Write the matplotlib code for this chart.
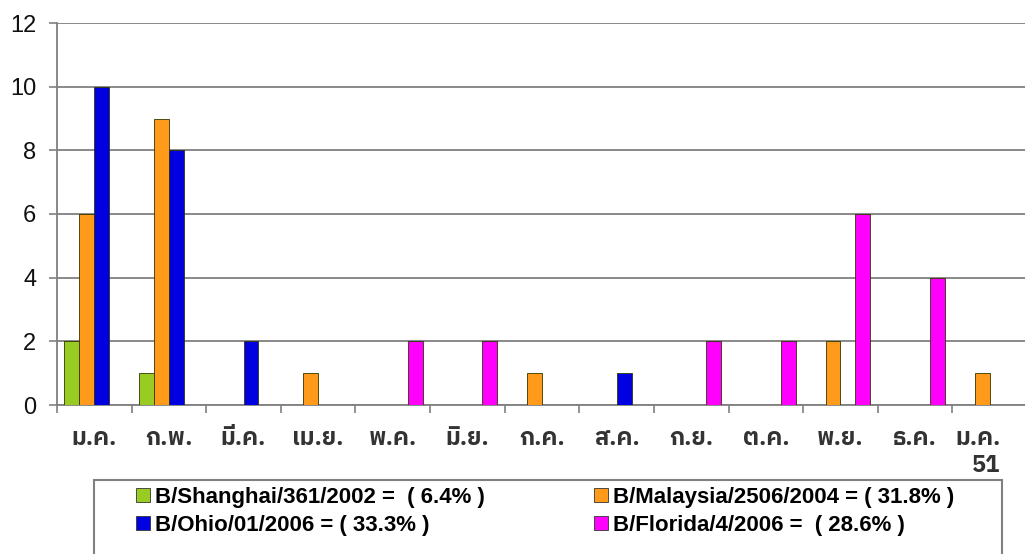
import matplotlib
matplotlib.use("Agg")
import matplotlib.pyplot as plt
import matplotlib.patches as mpatches
import matplotlib.transforms as mtransforms
import numpy as np

# data
months = ["ม.ค.", "ก.พ.", "มี.ค.", "เม.ย.", "พ.ค.", "มิ.ย.", "ก.ค.",
          "ส.ค.", "ก.ย.", "ต.ค.", "พ.ย.", "ธ.ค.", "ม.ค.\n51"]
shanghai = [2, 1, 0, 0, 0, 0, 0, 0, 0, 0, 0, 0, 0]
malaysia = [6, 9, 0, 1, 0, 0, 1, 0, 0, 0, 2, 0, 1]
ohio     = [10, 8, 2, 0, 0, 0, 0, 1, 0, 0, 0, 0, 0]
florida  = [0, 0, 0, 0, 2, 2, 0, 0, 2, 2, 6, 4, 0]
series_labels = ["B/Shanghai/361/2002 =  ( 6.4% )",
                 "B/Malaysia/2506/2004 = ( 31.8% )",
                 "B/Ohio/01/2006 = ( 33.3% )",
                 "B/Florida/4/2006 =  ( 28.6% )"]
colors = ["#99CC22", "#FF9A1A", "#0000E0", "#FF00FF"]

fig = plt.figure(figsize=(10.25, 5.54), dpi=100)
ax = fig.add_axes([57/1025, 149/554, 970/1025, 382/554])

x = np.arange(len(months))
width = 0.2
all_series = [shanghai, malaysia, ohio, florida]
for i, vals in enumerate(all_series):
    ax.bar(x + (i - 1.5) * width, vals, width, color=colors[i],
           edgecolor="#333300", linewidth=0.6, zorder=3)

ax.set_xlim(-0.5, len(months) - 0.5)
ax.set_ylim(0, 12)
ax.set_yticks(np.arange(0, 13, 2))
ax.yaxis.grid(True, color="#808080", linewidth=1.3, zorder=0)

# month labels at centres, tick marks at category borders
ax.set_xticks(x)
ax.set_xticklabels(months, family=["IBM Plex Sans Thai", "Noto Sans Thai", "Liberation Sans"],
                   fontsize=17, fontweight="bold", color="#333333", multialignment="right")
ax.set_xticks(np.arange(-0.5, len(months)), minor=True)
ax.tick_params(axis="x", which="major", length=0, pad=16)
ax.tick_params(axis="x", which="minor", length=6, color="#808080", width=1.2)
ax.tick_params(axis="y", length=6, color="#808080", width=1.2, pad=9,
               labelsize=17, labelcolor="#111111")
for lab in ax.get_yticklabels():
    lab.set_family("Liberation Sans")

last = ax.get_xticklabels()[-1]
last.set_transform(last.get_transform() +
                   mtransforms.ScaledTranslation(-12/100, 0, fig.dpi_scale_trans))

for s in ["top", "right"]:
    ax.spines[s].set_visible(False)
for s in ["left", "bottom"]:
    ax.spines[s].set_color("#808080")
    ax.spines[s].set_linewidth(1.3)

# legend
handles = [mpatches.Patch(facecolor=c, edgecolor="#333333", linewidth=0.6) for c in colors]
leg = fig.legend([handles[i] for i in [0, 2, 1, 3]],
                 [series_labels[i] for i in [0, 2, 1, 3]],
                 ncol=2, loc="upper left", bbox_to_anchor=(136/1025, 1 - 487/554),
                 frameon=False, borderpad=0, borderaxespad=0,
                 handlelength=0.62, handleheight=0.62, handletextpad=0.25,
                 columnspacing=4.9, labelspacing=0.3,
                 prop={"family": "Liberation Sans", "weight": "bold", "size": 16})
box = mpatches.Rectangle((94/1025, -10/554), 908/1025, 84/554, transform=fig.transFigure,
                         facecolor="none", edgecolor="#808080", linewidth=1.5, clip_on=False)
fig.add_artist(box)

fig.savefig("out.png", dpi=100)
